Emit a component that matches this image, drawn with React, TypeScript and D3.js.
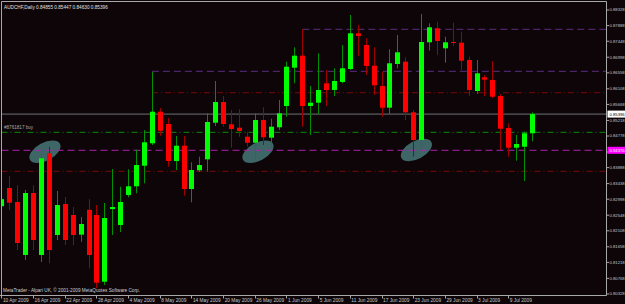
import React from "react";
import * as d3 from "d3";

const dates = [
  "2009-04-10","2009-04-13","2009-04-14","2009-04-15","2009-04-16","2009-04-17",
  "2009-04-20","2009-04-21","2009-04-22","2009-04-23","2009-04-24",
  "2009-04-27","2009-04-28","2009-04-29","2009-04-30","2009-05-01",
  "2009-05-04","2009-05-05","2009-05-06","2009-05-07","2009-05-08",
  "2009-05-11","2009-05-12","2009-05-13","2009-05-14","2009-05-15",
  "2009-05-18","2009-05-19","2009-05-20","2009-05-21","2009-05-22",
  "2009-05-25","2009-05-26","2009-05-27","2009-05-28","2009-05-29",
  "2009-06-01","2009-06-02","2009-06-03","2009-06-04","2009-06-05",
  "2009-06-08","2009-06-09","2009-06-10","2009-06-11","2009-06-12",
  "2009-06-15","2009-06-16","2009-06-17","2009-06-18","2009-06-19",
  "2009-06-22","2009-06-23","2009-06-24","2009-06-25","2009-06-26",
  "2009-06-29","2009-06-30","2009-07-01","2009-07-02","2009-07-03",
  "2009-07-06","2009-07-07","2009-07-08","2009-07-09","2009-07-10",
  "2009-07-13","2009-07-14",
];

const opens = [
  0.8280, 0.83314, 0.82920, 0.81427, 0.83173, 0.81427, 0.84291, 0.81990, 0.82863, 0.82553,
  0.82000, 0.82700, 0.82553, 0.80674, 0.82722, 0.82272, 0.83117, 0.83362, 0.83942, 0.84573,
  0.85463, 0.85117, 0.84074, 0.84505, 0.83286, 0.83813, 0.84122, 0.85153, 0.85736, 0.85108,
  0.85013, 0.84759, 0.84590, 0.85229, 0.84731, 0.85024, 0.85624, 0.86703, 0.87041, 0.85624,
  0.85717, 0.86263, 0.86075, 0.86300, 0.86666, 0.87672, 0.87342, 0.86759, 0.86187, 0.85576,
  0.86807, 0.86872, 0.85446, 0.84666, 0.87418, 0.87813, 0.87249, 0.87427, 0.87407, 0.86920,
  0.86046, 0.86432, 0.86356, 0.85905, 0.85004, 0.84449, 0.84477, 0.84855,
];
const highs = [
  0.8320, 0.83652, 0.83390, 0.83258, 0.83390, 0.84263, 0.84477, 0.83229, 0.83060, 0.82779,
  0.82500, 0.83000, 0.82835, 0.82891, 0.83849, 0.83350, 0.83841, 0.84393, 0.84948, 0.86582,
  0.85567, 0.85286, 0.84779, 0.84779, 0.84038, 0.84195, 0.85418, 0.86328, 0.85905, 0.85511,
  0.85531, 0.84900, 0.85418, 0.85587, 0.85266, 0.85793, 0.86872, 0.87277, 0.87784, 0.86187,
  0.87108, 0.86638, 0.86686, 0.87342, 0.88187, 0.87905, 0.87531, 0.87277, 0.86590, 0.87221,
  0.87624, 0.86996, 0.85511, 0.88215, 0.87953, 0.87998, 0.87576, 0.87970, 0.87717, 0.87013,
  0.86920, 0.86497, 0.86892, 0.85962, 0.85137, 0.84807, 0.84900, 0.85447,
];
const lows = [
  0.8270, 0.82694, 0.81567, 0.81286, 0.81567, 0.81230, 0.81193, 0.81849, 0.81708, 0.81700,
  0.81800, 0.81052, 0.80488, 0.80581, 0.81990, 0.82074, 0.83052, 0.83165, 0.83446, 0.84525,
  0.84787, 0.83914, 0.83821, 0.83097, 0.82911, 0.83765, 0.83773, 0.85060, 0.85041, 0.84449,
  0.84759, 0.84477, 0.84103, 0.84525, 0.84477, 0.84948, 0.85322, 0.86263, 0.85041, 0.84807,
  0.85399, 0.85624, 0.85905, 0.86263, 0.86638, 0.87032, 0.86497, 0.85934, 0.85322, 0.85399,
  0.86686, 0.85229, 0.84196, 0.84404, 0.87182, 0.87060, 0.86844, 0.87314, 0.86638, 0.85905,
  0.85962, 0.85905, 0.85841, 0.84384, 0.84196, 0.84083, 0.83511, 0.84630,
];
const closes = [
  0.8300, 0.82900, 0.81765, 0.83173, 0.81849, 0.84151, 0.81567, 0.82835, 0.81849, 0.81990,
  0.82300, 0.81427, 0.80646, 0.82469, 0.82778, 0.82920, 0.83362, 0.83962, 0.84601, 0.85463,
  0.84928, 0.84074, 0.84505, 0.83286, 0.83821, 0.83962, 0.85173, 0.85736, 0.85117, 0.84976,
  0.84920, 0.84590, 0.85229, 0.84742, 0.85041, 0.85418, 0.86731, 0.87041, 0.85624, 0.85717,
  0.86075, 0.86075, 0.86328, 0.86686, 0.87672, 0.87596, 0.86751, 0.86207, 0.85576, 0.86827,
  0.87136, 0.85446, 0.84666, 0.87427, 0.87841, 0.87455, 0.87418, 0.87407, 0.86900, 0.86075,
  0.86545, 0.86365, 0.85886, 0.84984, 0.84449, 0.84553, 0.84855, 0.85396,
];

const priceTicks = [
  0.80328, 0.80768, 0.81218, 0.81658, 0.82108, 0.82548, 0.82998, 0.83438, 0.83888, 0.84328,
  0.84778, 0.85218, 0.85668, 0.86108, 0.86558, 0.86998, 0.87448, 0.87888, 0.88328,
];

const symbol = "AUDCHF,Daily";
const bidPrice = 0.85396;
const magentaLevel = 0.84376;
const greenLevel = 0.84883;
const darkRedLevel = 0.83784;
const redLevel = 0.85998;
const purpleLevelA = 0.86601;
const purpleStartA = 19;
const purpleLevelB = 0.87784;
const purpleStartB = 38;
const ellipseIdx = [5.5, 32.4, 52.4];
const ellipsePrice = [0.84336, 0.84336, 0.84384];
const orderLabel = "#8761817 buy";
const copyright = "MetaTrader - Alpari UK, \u00a9 2001-2009 MetaQuotes Software Corp.";

const W = 625, H = 304;
const L = 1.5, R = 606.5, T = 1.5, B = 295.5;

export default function App() {
  const y = d3.scaleLinear().domain([0.80328, 0.88328]).range([294, 10]);
  const x = d3.scaleLinear().domain([0, 67]).range([1.4, 532]);
  const parse = d3.timeParse("%Y-%m-%d");
  const fmt = d3.timeFormat("%-d %b %Y");
  const bodyW = 5;
  const font = "'Liberation Sans', Arial, sans-serif";
  const txt = "#c8c8c8";
  const axisFs = 4.2;

  const dateTicks = dates.map((d, i) => ({ i, label: fmt(parse(d) as Date) })).filter((d) => d.i % 4 === 0);
  const hidden = (p: number) => Math.abs(y(p) - y(magentaLevel)) < 4 || Math.abs(y(p) - y(bidPrice)) < 4;

  return (
    <svg width={W} height={H} style={{ position: "fixed", left: 0, top: 0 }} fontFamily={font}>
      <rect x={0} y={0} width={W} height={H} fill="#0d0508" />
      <defs>
        <clipPath id="plot">
          <rect x={L} y={T} width={R - L} height={B - T} />
        </clipPath>
      </defs>
      <g clipPath="url(#plot)">
        {ellipseIdx.map((ix, j) => (
          <ellipse
            key={j}
            cx={x(ix)}
            cy={y(ellipsePrice[j])}
            rx={17}
            ry={9}
            fill="#3e6666"
            transform={`rotate(-28 ${x(ix)} ${y(ellipsePrice[j])})`}
          />
        ))}
        <line x1={L} x2={R} y1={y(bidPrice)} y2={y(bidPrice)} stroke="#6e7378" strokeWidth={1} />
        <line x1={L} x2={R} y1={y(greenLevel)} y2={y(greenLevel)} stroke="#0a8a0a" strokeDasharray="6,3,1,3" />
        <line x1={L} x2={R} y1={y(magentaLevel)} y2={y(magentaLevel)} stroke="#b020b0" strokeDasharray="7,4" />
        <line x1={L} x2={R} y1={y(darkRedLevel)} y2={y(darkRedLevel)} stroke="#7a0a0a" strokeDasharray="6,3,1,3" />
        <line x1={x(purpleStartA)} x2={R} y1={y(redLevel)} y2={y(redLevel)} stroke="#7a0a0a" strokeDasharray="6,3,1,3" />
        <line x1={x(purpleStartA)} x2={R} y1={y(purpleLevelA)} y2={y(purpleLevelA)} stroke="#5c2c82" strokeDasharray="7,4" />
        <line x1={x(purpleStartB)} x2={R} y1={y(purpleLevelB)} y2={y(purpleLevelB)} stroke="#5c2c82" strokeDasharray="7,4" />
        {opens.map((o, i) => {
          const c = closes[i];
          const up = c >= o;
          const cx = Math.round(x(i)) + 0.5;
          const top = y(Math.max(o, c));
          const bot = y(Math.min(o, c));
          return (
            <g key={i}>
              <line x1={cx} x2={cx} y1={y(highs[i])} y2={y(lows[i])} stroke={up ? "#009000" : "#a00000"} />
              <rect
                x={cx - bodyW / 2}
                y={top}
                width={bodyW}
                height={Math.max(1, bot - top)}
                fill={up ? "#00ff00" : "#ff0000"}
              />
            </g>
          );
        })}
      </g>
      <text x={4} y={y(greenLevel) - 3} fontSize={4.6} fill="#a8a8a8">{orderLabel}</text>
      <text x={4} y={9} fontSize={4.7} fill="#e0e0e0">
        {symbol}{"  "}{opens[67].toFixed(5)} {highs[67].toFixed(5)} {lows[67].toFixed(5)} {closes[67].toFixed(5)}
      </text>
      <text x={3} y={292} fontSize={4.7} fill="#d0d0d0">{copyright}</text>
      <path d={`M${L},${B}V${T}H${R}`} fill="none" stroke="#a8a8a8" />
      <line x1={R} x2={R} y1={T} y2={B} stroke="#a8a8a8" />
      <line x1={0} x2={R} y1={B} y2={B} stroke="#a8a8a8" />
      {priceTicks.map((p) => (
        <g key={p}>
          <line x1={R} x2={R + 2.5} y1={y(p)} y2={y(p)} stroke="#a8a8a8" />
          {!hidden(p) && (
            <text x={R + 3} y={y(p)} dy="0.35em" fontSize={axisFs} fill={txt}>{p.toFixed(5)}</text>
          )}
        </g>
      ))}
      <rect x={R + 1} y={y(bidPrice) - 3.5} width={W - R - 1} height={7} fill="#ffffff" />
      <text x={R + 3} y={y(bidPrice)} dy="0.35em" fontSize={axisFs} fill="#000000">{bidPrice.toFixed(5)}</text>
      <rect x={R + 1} y={y(magentaLevel) - 3.5} width={W - R - 1} height={7} fill="#ff00ff" />
      <text x={R + 3} y={y(magentaLevel)} dy="0.35em" fontSize={axisFs} fill="#ffffff">{magentaLevel.toFixed(5)}</text>
      {dateTicks.map((d) => (
        <g key={d.i}>
          <line x1={Math.round(x(d.i)) + 0.5} x2={Math.round(x(d.i)) + 0.5} y1={B} y2={B + 3} stroke="#a8a8a8" />
          <text x={x(d.i) + 1.5} y={301.5} fontSize={4.8} fill={txt}>{d.label}</text>
        </g>
      ))}
    </svg>
  );
}
